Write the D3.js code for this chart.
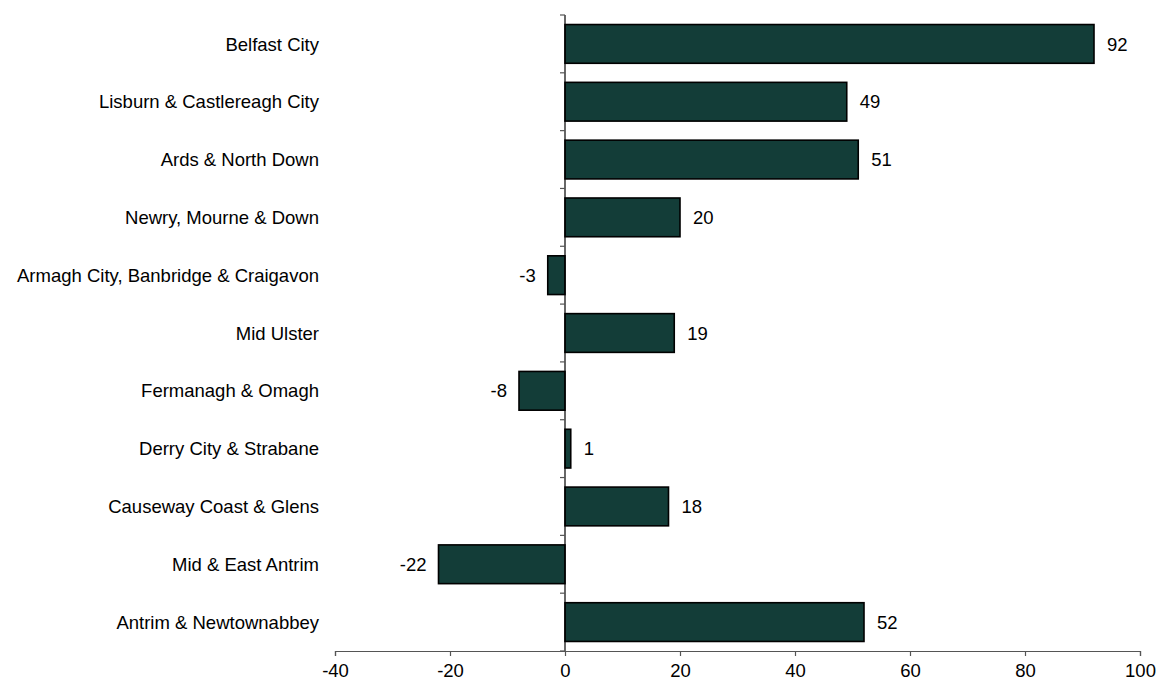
<!DOCTYPE html>
<html>
<head>
<meta charset="utf-8">
<script src="https://cdn.jsdelivr.net/npm/d3@7"></script>
<style>
  body { margin: 0; background: #fff; overflow: hidden; }
  text { font-family: "Liberation Sans", Arial, sans-serif; fill: #000; }
</style>
</head>
<body>
<div id="chart"></div>
<script>
var categories = ["Belfast City", "Lisburn & Castlereagh City", "Ards & North Down",
  "Newry, Mourne & Down", "Armagh City, Banbridge & Craigavon", "Mid Ulster",
  "Fermanagh & Omagh", "Derry City & Strabane", "Causeway Coast & Glens",
  "Mid & East Antrim", "Antrim & Newtownabbey"];
var values = [92, 49, 51, 20, -3, 19, -8, 1, 18, -22, 52];
var xTicks = [-40, -20, 0, 20, 40, 60, 80, 100];

var FONT = "18.5px";
var margin = {top: 15, left: 335},
    plotW = 805,
    plotH = 636;

var x = d3.scaleLinear().domain([-40, 100]).range([0, plotW]);
var y = d3.scaleBand().domain(categories).range([0, plotH]).paddingInner(0.33).paddingOuter(0.165);
var yTickScale = d3.scaleBand().domain(categories).range([0, plotH]);

var svg = d3.select("#chart").append("svg")
    .attr("width", 1158)
    .attr("height", 682)
    .style("display", "block")
  .append("g")
    .attr("transform", "translate(" + margin.left + "," + margin.top + ")");

// bars
svg.selectAll(".bar").data(values).enter().append("rect")
    .attr("class", "bar")
    .attr("x", function(d) { return x(Math.min(0, d)); })
    .attr("y", function(d, i) { return y(categories[i]); })
    .attr("width", function(d) { return Math.abs(x(d) - x(0)); })
    .attr("height", y.bandwidth())
    .attr("fill", "#133d38")
    .attr("stroke", "#000")
    .attr("stroke-width", 1.6);

// value labels
svg.selectAll(".val").data(values).enter().append("text")
    .attr("class", "val")
    .attr("x", function(d) { return d >= 0 ? x(d) + 13 : x(d) - 12; })
    .attr("y", function(d, i) { return y(categories[i]) + y.bandwidth() / 2; })
    .attr("dy", "0.36em")
    .attr("text-anchor", function(d) { return d >= 0 ? "start" : "end"; })
    .style("font-size", FONT)
    .text(function(d) { return d; });

// x axis
var xAxis = svg.append("g")
    .attr("transform", "translate(0," + plotH + ")")
    .call(d3.axisBottom(x).tickValues(xTicks).tickSize(5).tickPadding(8)
      .tickFormat(function(d) { return String(d); }));
xAxis.select(".domain").attr("stroke", "#555").attr("stroke-width", 1.2);
xAxis.selectAll(".tick line").attr("stroke", "#555").attr("stroke-width", 1.2);
xAxis.selectAll("text")
    .style("font-size", FONT)
    .style("font-family", "'Liberation Sans', Arial, sans-serif")
    .attr("fill", "#000");

// y axis at zero, ticks between categories
var yAxisG = svg.append("g").attr("transform", "translate(" + x(0) + ",0)");
yAxisG.append("line")
    .attr("y1", 0).attr("y2", plotH)
    .attr("stroke", "#000").attr("stroke-width", 1.2);
var tickPos = categories.map(function(c) { return yTickScale(c); }).concat([plotH]);
yAxisG.selectAll(".ytick").data(tickPos).enter().append("line")
    .attr("x1", -5).attr("x2", 0)
    .attr("y1", function(d) { return d; }).attr("y2", function(d) { return d; })
    .attr("stroke", "#555").attr("stroke-width", 1.2);

// category labels
svg.selectAll(".cat").data(categories).enter().append("text")
    .attr("class", "cat")
    .attr("x", -16)
    .attr("y", function(d) { return y(d) + y.bandwidth() / 2; })
    .attr("dy", "0.36em")
    .attr("text-anchor", "end")
    .style("font-size", FONT)
    .text(function(d) { return d; });
</script>
</body>
</html>
